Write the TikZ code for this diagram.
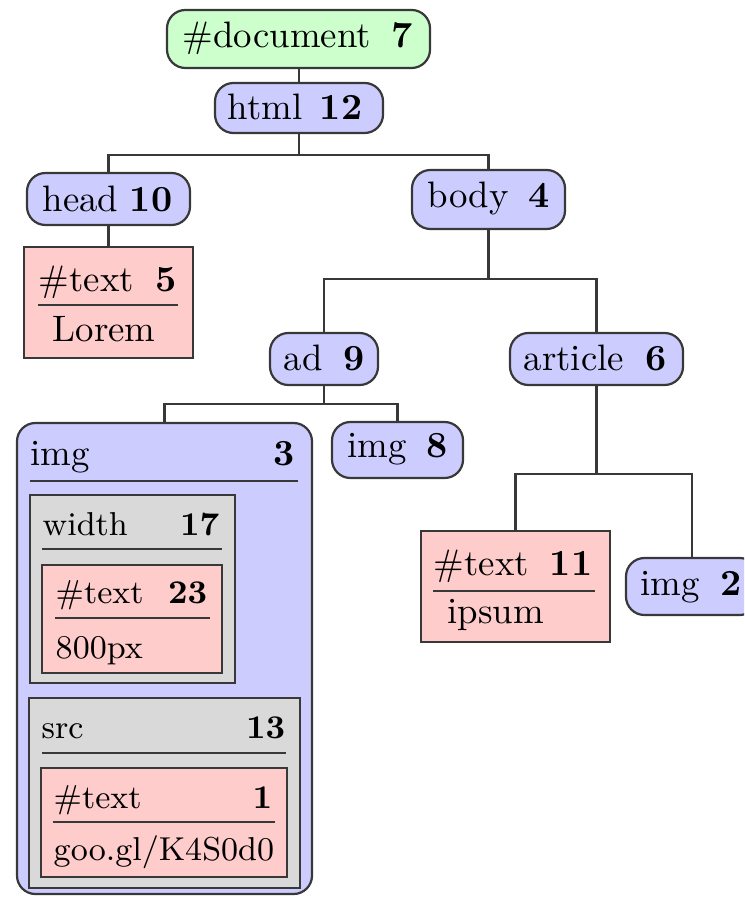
\documentclass[tikz,border=0pt]{standalone}
\usetikzlibrary{fit}
\definecolor{docgreen}{HTML}{CCFFCC}
\definecolor{elblue}{HTML}{CCCCFF}
\definecolor{txtred}{HTML}{FFCCCC}
\definecolor{attrgray}{HTML}{D9D9D9}
\definecolor{edgecol}{HTML}{383838}
\begin{document}
\begin{tikzpicture}[x=0.2717pt,y=-0.2717pt,
  basebox/.style={draw=edgecol, line width=0.6pt, inner sep=0pt},
  docbox/.style={basebox, fill=docgreen, rounded corners=5pt},
  elbox/.style={basebox, fill=elblue, rounded corners=5pt},
  txtbox/.style={basebox, fill=txtred},
  attrbox/.style={basebox, fill=attrgray},
  lbl/.style={inner sep=0pt, anchor=base west},
  num/.style={inner sep=0pt, anchor=base east, font=\bfseries},
  slbl/.style={lbl, font=\small},
  snum/.style={num, font=\small\bfseries},
  rulel/.style={draw=edgecol, line width=0.6pt},
  conn/.style={draw=edgecol, line width=0.6pt}]
\useasboundingbox (0,0) rectangle (744,898);
\clip (0,0) rectangle (744,898);

% boxes
\node[docbox, fit={(167,10) (430,68)}] (doc) {};
\node[elbox, fit={(215,83) (383,133)}] (html) {};
\node[elbox, fit={(27,173) (190,225)}] (head) {};
\node[elbox, fit={(412,170) (565,229)}] (body) {};
\node[txtbox, fit={(24,247) (193,358)}] (text5) {};
\node[elbox, fit={(270,333) (378,385)}] (ad) {};
\node[elbox, fit={(510,333) (683,385)}] (article) {};
\node[elbox, fit={(17,423) (312,894)}] (img3) {};
\node[elbox, fit={(332,422) (463,478)}] (img8) {};
\node[txtbox, fit={(421,531) (610,642)}] (text11) {};
\node[elbox, fit={(626,558) (758,615)}] (img2) {};
\node[attrbox, fit={(30,495) (235,683)}] (width) {};
\node[txtbox, fit={(42,565) (222,673)}] (text23) {};
\node[attrbox, fit={(29,698) (300,888)}] (src) {};
\node[txtbox, fit={(41,768) (287,877)}] (text1) {};

% connectors
\path (html.south) ++(0,21) coordinate (jhtml);
\path (body.south) ++(0,49) coordinate (jbody);
\path (ad.south) ++(0,18) coordinate (jad);
\path (article.south) ++(0,88) coordinate (jart);
\draw[conn] (html.north |- doc.south) -- (html.north);
\draw[conn] (html.south) -- (jhtml);
\draw[conn] (head.north) |- (jhtml) -| (body.north);
\draw[conn] (head.south) -- (text5.north);
\draw[conn] (body.south) -- (jbody);
\draw[conn] (ad.north) |- (jbody) -| (article.north);
\draw[conn] (ad.south) -- (jad);
\draw[conn] (img3.north) |- (jad) -| (img8.north);
\draw[conn] (article.south) -- (jart);
\draw[conn] (text11.north) |- (jart) -| (img2.north);

% labels
\node[lbl] (ldoc) at (182,48) {\#document};
\node[num] (ndoc) at (413,48) {7};
\node[lbl] (lhtml) at (227,120) {html};
\node[num] (nhtml) at (363,120) {12};
\node[lbl] (lhead) at (42,212) {head};
\node[num] (nhead) at (173,212) {10};
\node[lbl] (lbody) at (427,208) {body};
\node[num] (nbody) at (550,208) {4};
\node[lbl] (lt5) at (38,292) {\#text};
\node[num] (nt5) at (177,292) {5};
\draw[rulel] (38,305) -- (178,305);
\node[lbl] (vt5) at (52,342) {Lorem};
\node[lbl] (lad) at (283,371) {ad};
\node[num] (nad) at (365,371) {9};
\node[lbl] (lart) at (523,371) {article};
\node[num] (nart) at (667,371) {6};
\node[lbl] (limg8) at (347,458) {img};
\node[num] (nimg8) at (448,458) {8};
\node[lbl] (limg3) at (30,465) {img};
\node[num] (nimg3) at (295,465) {3};
\draw[rulel] (30,481) -- (298,481);
\node[slbl] (lw) at (42,535) {width};
\node[snum] (nw) at (220,535) {17};
\draw[rulel] (42,549) -- (222,549);
\node[slbl] (lt23) at (55,603) {\#text};
\node[snum] (nt23) at (208,603) {23};
\draw[rulel] (55,618) -- (210,618);
\node[slbl] (vt23) at (55,658) {800px};
\node[slbl] (lsrc) at (41,738) {src};
\node[snum] (nsrc) at (286,738) {13};
\draw[rulel] (42,753) -- (286,753);
\node[slbl] (lt1) at (53,808) {\#text};
\node[snum] (nt1) at (273,808) {1};
\draw[rulel] (53,822) -- (275,822);
\node[slbl] (vt1) at (53,860) {goo.gl/K4S0d0};
\node[lbl] (lt11) at (433,575) {\#text};
\node[num] (nt11) at (593,575) {11};
\draw[rulel] (433,591) -- (595,591);
\node[lbl] (vt11) at (447,623) {ipsum};
\node[lbl] (limg2) at (640,595) {img};
\node[num] (nimg2) at (742,595) {2};
\end{tikzpicture}
\end{document}
